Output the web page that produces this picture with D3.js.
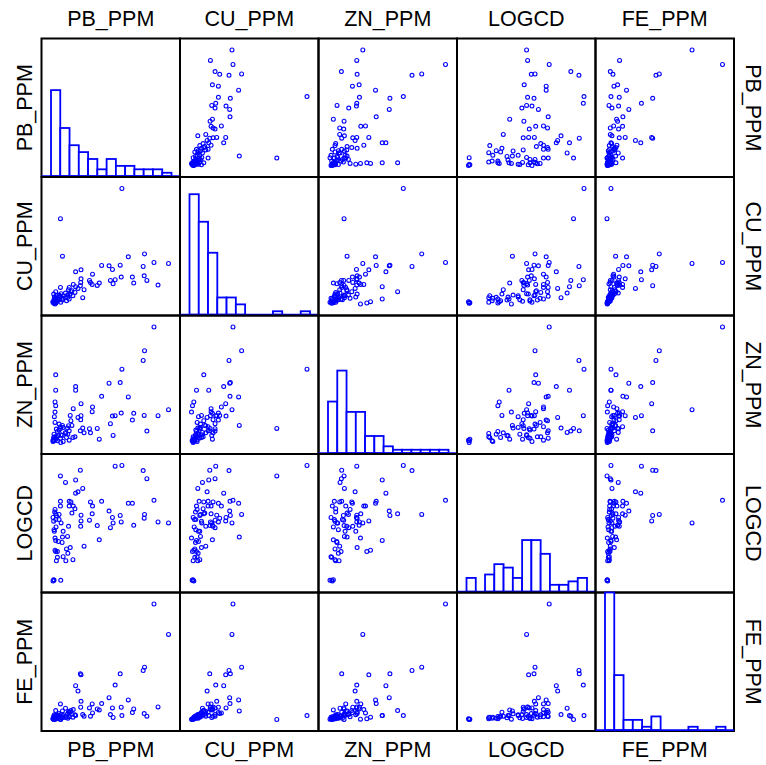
<!DOCTYPE html>
<html>
<head>
<meta charset="utf-8">
<script src="https://cdn.jsdelivr.net/npm/d3@7/dist/d3.min.js"></script>
<style>
    body { margin: 0; background: #fff; }
    svg { display: block; }
</style>
</head>
<body>
<div id="chart"></div>
<script>
// variable names, in matrix order
let names = ['PB_PPM', 'CU_PPM', 'ZN_PPM', 'LOGCD', 'FE_PPM'];

// one value per sample (80 samples)
let pb = [354, 323, 311, 290, 283, 279, 282, 251, 247, 235, 216, 214, 211, 196, 190, 188, 182, 178, 156, 149,
    143, 128, 129, 120, 123, 104, 100, 94, 95, 95, 93, 86, 79, 79, 72, 71, 63, 68, 77, 60,
    60, 56, 52, 55, 58, 49, 42, 39, 40, 42, 34, 30, 30, 34, 34, 22, 25, 20, 18, 20,
    18, 16, 15, 21, 14, 12, 20, 18, 35, 15, 12, 14, 25, 28, 20, 22, 17, 65, 50, 36];
let cu = [127, 62, 130, 76, 156, 118, 90, 68, 86, 147, 353, 86, 122, 78, 66, 109, 76, 120, 121, 68,
    61, 64, 95, 76, 70, 48, 24, 70, 81, 108, 60, 52, 102, 57, 64, 30, 35, 45, 40, 55,
    20, 25, 15, 32, 48, 38, 22, 17, 149, 30, 262, 18, 32, 55, 28, 10, 15, 8, 12, 20,
    5, 26, 18, 13, 35, 10, 42, 22, 10, 7, 12, 9, 20, 26, 14, 30, 17, 42, 24, 36];
let zn = [216, 180, 710, 88, 568, 510, 182, 194, 154, 292, 458, 196, 378, 180, 62, 178, 132, 374, 296, 40,
    104, 204, 232, 102, 78, 78, 106, 156, 180, 252, 90, 170, 354, 332, 222, 50, 182, 122, 54, 90,
    34, 70, 50, 106, 120, 80, 26, 62, 122, 110, 104, 94, 130, 114, 46, 54, 30, 240, 262, 332,
    202, 174, 70, 40, 50, 26, 424, 140, 20, 30, 34, 40, 86, 60, 46, 100, 54, 150, 74, 66];
let logcd = [0.70, 0.73, 1.37, 2.01, 0.95, 2.25, 0.84, 0.63, 1.28, 1.28, 2.40, 0.73, 0.92, 2.38, 0.70, 0.86, 0.56, 1.05, 1.34, 0.20,
    0.62, 0.97, 1.20, 0.78, 1.32, 0.01, 1.72, 0.60, 0.93, 0.76, 2.26, 1.62, 1.58, 1.97, 1.20, -0.39, -0.03, 0.99, 1.12, 1.34,
    1.20, -0.20, -0.07, 0.30, 0.60, 1.90, -0.30, 0.12, 0.28, 0.45, 2.09, 0.80, 0.95, 1.20, 1.34, -0.42, -0.32, -0.15, -0.11, 0.18,
    0.25, 0.45, 0.50, 0.58, 0.75, 0.86, 0.97, 1.10, -1.00, -1.00, -1.02, -0.98, -0.15, 0.15, 0.80, 0.92, 1.02, 1.32, -0.42, 0.70];
let fe = [30500, 8600, 39700, 5800, 20600, 19600, 6600, 8000, 6900, 10700, 6000, 8500, 18600, 15200, 5400, 8300, 6300, 11400, 9600, 7700,
    8000, 9500, 6800, 8300, 5800, 5800, 6300, 8500, 10300, 18300, 18600, 13400, 15000, 6000, 7800, 5500, 7000, 6400, 6200, 7000,
    5600, 5200, 5800, 6500, 7200, 8200, 5500, 5300, 7400, 6000, 4800, 5200, 6600, 9500, 5700, 5000, 5200, 5000, 5500, 6000,
    4900, 6200, 5300, 5100, 5800, 5000, 7500, 5600, 4900, 4800, 5000, 4900, 5700, 6000, 5200, 6100, 5500, 7500, 5400, 6300];

// histogram bar heights on the diagonal (13 equal bins each)
let pbHist = [25, 14, 9, 7, 5, 2, 5, 3, 3, 2, 2, 2, 1];
let cuHist = [35, 27, 18, 5, 5, 3, 0, 0, 0, 1, 0, 0, 1];
let znHist = [15, 24, 12, 12, 5, 5, 2, 1, 1, 1, 1, 1, 1];
let logcdHist = [4, 0, 5, 8, 7, 4, 15, 15, 11, 2, 2, 3, 4];
let feHist = [51, 16, 3, 3, 1, 4, 0, 0, 0, 1, 0, 0, 1];

let columns = [pb, cu, zn, logcd, fe];
let hists = [pbHist, cuHist, znHist, logcdHist, feHist];

let width = 766,
    height = 765;
let originX = 41.5, //matrix origin
    originY = 38.5,
    size = 138.5, //one panel
    pad = 11.5;
let blue = '#0000ff';
let font = "'Liberation Sans', Arial, Helvetica, sans-serif";

let svg = d3
    .select('#chart')
    .append('svg')
    .attr('width', width)
    .attr('height', height);

// same scale per variable, used as x in its column and y in its row
let xScales = columns.map(col => d3.scaleLinear().domain(d3.extent(col)).range([pad, size - pad]));
let yScales = columns.map(col => d3.scaleLinear().domain(d3.extent(col)).range([size - pad, pad]));

// histogram scales
let nBins = 13;
let base = size - 0.8;
let binX = d3.scaleLinear().domain([0, nBins]).range([9.5, 130]);
let countY = d3.scaleLinear().domain([0, 40]).range([base, 0]).clamp(true);

function drawHist(g, counts) {
    g.selectAll('rect.bar')
        .data(counts.map((c, k) => ({ c: c, k: k })).filter(d => d.c > 0))
        .enter()
        .append('rect')
        .attr('class', 'bar')
        .attr('x', d => binX(d.k))
        .attr('width', d => binX(d.k + 1) - binX(d.k))
        .attr('y', d => countY(d.c))
        .attr('height', d => base - countY(d.c))
        .attr('fill', '#fff')
        .attr('stroke', blue)
        .attr('stroke-width', 1.8);
    g.append('line')
        .attr('x1', 0)
        .attr('x2', size)
        .attr('y1', base)
        .attr('y2', base)
        .attr('stroke', blue)
        .attr('stroke-width', 1.8);
}

function drawScatter(g, i, j) {
    let xs = xScales[j],
        ys = yScales[i];
    g.selectAll('circle')
        .data(d3.range(columns[0].length))
        .enter()
        .append('circle')
        .attr('cx', k => xs(columns[j][k]))
        .attr('cy', k => ys(columns[i][k]))
        .attr('r', 1.95)
        .attr('fill', 'none')
        .attr('stroke', blue)
        .attr('stroke-width', 1.1);
}

names.forEach((rowName, i) => {
    names.forEach((colName, j) => {
        let g = svg.append('g').attr('transform', 'translate(' + (originX + j * size) + ',' + (originY + i * size) + ')');
        g.append('rect')
            .attr('width', size)
            .attr('height', size)
            .attr('fill', 'none')
            .attr('stroke', '#000')
            .attr('stroke-width', 2);
        if (i === j) drawHist(g, hists[i]);
        else drawScatter(g, i, j);
    });
});

// labels round the matrix
names.forEach((name, k) => {
    let c = k * size + size / 2;
    svg.append('text').attr('x', originX + c).attr('y', 25.5).text(name);
    svg.append('text').attr('x', originX + c).attr('y', 757).text(name);
    svg.append('text')
        .attr('transform', 'translate(31.5,' + (originY + c) + ') rotate(-90)')
        .text(name);
    svg.append('text')
        .attr('transform', 'translate(746,' + (originY + c) + ') rotate(90)')
        .text(name);
});
svg.selectAll('text')
    .attr('text-anchor', 'middle')
    .attr('font-family', font)
    .attr('font-size', 21.5)
    .attr('fill', '#000');
</script>
</body>
</html>
